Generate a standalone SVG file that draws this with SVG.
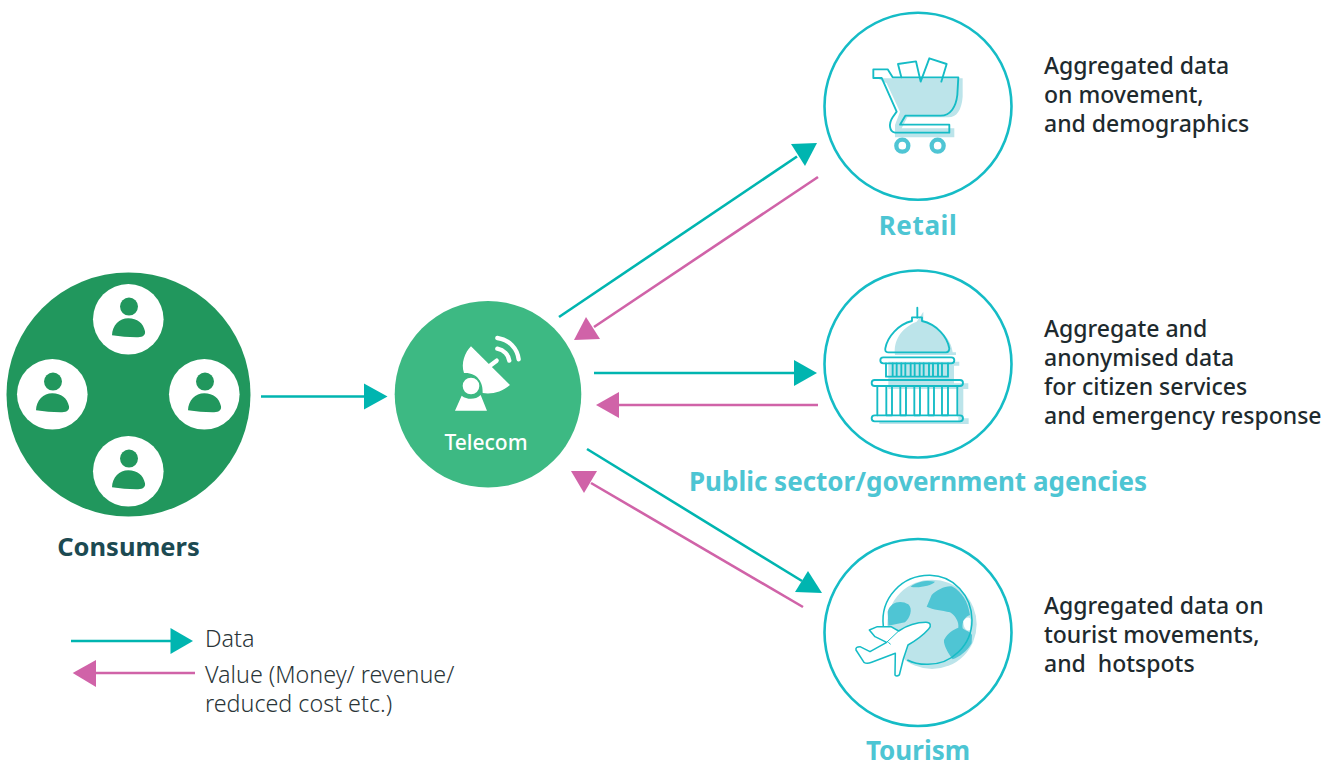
<svg xmlns="http://www.w3.org/2000/svg" width="1334" height="762" viewBox="0 0 1334 762">
<style>
text{font-family:"Noto Sans","Open Sans","Liberation Sans",sans-serif}
.ring{fill:#fff;stroke:#15bcc6;stroke-width:2.6}
.t{font-size:23px;font-weight:500;fill:#1e2a2e}
.h{font-size:26px;font-weight:700;fill:#4dc5d3}
.l{font-size:23.300px;font-weight:300;fill:#2a3538}
.dl{stroke:#00b5b0;stroke-width:2.6;fill:none}
.vl{stroke:#d063a8;stroke-width:2.6;fill:none}
.da{fill:#00b5b0}.va{fill:#d063a8}
.ic{fill:none;stroke:#15bcc6;stroke-width:5.6;stroke-linejoin:round;stroke-linecap:round}
.sh{fill:#bce4ea}
.dk{fill:#4fc5d4}
.p{fill:#21975d}
</style>
<defs>
<g id="person"><circle cx="0.7" cy="-12.7" r="9" class="p"/><path class="p" d="M-16.3 16C-16 6-9-1 0-1C9-1 15 4 16.7 12C17.500 17 13 18 8 18C0 18-8 17-16.300 16Z"/></g>
</defs>
<g id="connectors">
<path class="dl" d="M261 396.500H366"/><path class="da" d="M387.500 396.500L364 383.500V409.500Z"/>
<path class="dl" d="M559 317L797 156.500"/><path class="da" d="M817 143L791 144L805 166Z"/>
<path class="vl" d="M818 177L594 327"/><path class="va" d="M574 340L600 339L586 317Z"/>
<path class="dl" d="M594 373H796"/><path class="da" d="M817 373L794 360V386Z"/>
<path class="vl" d="M818 405H618"/><path class="va" d="M596 405L619 392V418Z"/>
<path class="dl" d="M587 449L802 581"/><path class="da" d="M822 593L808 571L795 592Z"/>
<path class="vl" d="M803 607L591 483"/><path class="va" d="M571 471L584 493L597 471Z"/>
</g>
<g id="consumers">
<circle cx="128.500" cy="394.500" r="122" fill="#21975d"/>
<circle cx="128.300" cy="319.300" r="35.300" fill="#fff"/><use href="#person" x="128.300" y="319.300"/>
<circle cx="52.300" cy="394.300" r="35.300" fill="#fff"/><use href="#person" x="52.300" y="394.300"/>
<circle cx="204.300" cy="394.300" r="35.300" fill="#fff"/><use href="#person" x="204.300" y="394.300"/>
<circle cx="128.300" cy="471.300" r="35.300" fill="#fff"/><use href="#person" x="128.300" y="471.300"/>
<text x="128.500" y="556" text-anchor="middle" font-size="25.500" font-weight="700" fill="#1c4a52">Consumers</text>
</g>
<g id="telecom">
<circle cx="488" cy="394.300" r="93.300" fill="#3db983"/>
<g transform="translate(390 295) scale(.3333)">
<path fill="#fff" d="M243 154L360 270C335 292 305 298 278 294C280 262 262 232 222 234C212 205 225 172 243 154Z"/>
<path stroke="#fff" stroke-width="13" stroke-linecap="round" d="M300 212L320 197"/>
<path fill="none" stroke="#fff" stroke-width="13" stroke-linecap="round" d="M322 161C342 165 356 180 358 197"/>
<path fill="none" stroke="#fff" stroke-width="13" stroke-linecap="round" d="M322 129C358 134 382 160 386 193"/>
<circle cx="243" cy="273" r="25" fill="#fff"/>
<path fill="#fff" d="M215 302C232 315 256 315 272 300L291 347H195Z"/>
</g>
<text x="486" y="450" text-anchor="middle" font-size="21" font-weight="500" fill="#fff">Telecom</text>
</g>
<g id="retail">
<circle class="ring" cx="918" cy="106.300" r="93.500"/>
<g transform="translate(820 0) scale(.3333)">
<path class="sh" d="M172 235H428L428 290C425 330 410 352 385 352H262L245 385H403V412H225V375L240 335L200 250Z"/>
<path class="ic" d="M244 232L234 192L288 184L302 245L328 175L380 192L364 245"/>
<path class="ic" d="M160 208H203L218 232H415L412 285C408 320 392 347 362 347H256L240 374H388V398H225C208 395 205 372 218 352L230 335L185 234H160Z"/>
<circle cx="247" cy="437" r="18" fill="#fff" stroke="#4fc5d4" stroke-width="13"/>
<circle cx="353" cy="437" r="18" fill="#fff" stroke="#4fc5d4" stroke-width="13"/>
</g>
<text class="h" x="918" y="235" text-anchor="middle" letter-spacing=".6">Retail</text>
<text class="t"><tspan x="1044" y="74">Aggregated data</tspan><tspan x="1044" y="103">on movement,</tspan><tspan x="1044" y="132">and demographics</tspan></text>
</g>
<g id="government">
<circle class="ring" cx="918" cy="364" r="93.500"/>
<g transform="translate(820 265) scale(.3333)">
<path class="sh" d="M310 140V168C360 185 395 225 398 262H408V270H225C220 230 240 190 290 170ZM205 290H418V302H402V355H445V372H430V460H446V477H178V468H415V372H205Z"/>
<path class="ic" d="M292 128V158" stroke-width="6"/>
<path class="ic" d="M276 168V157H306V168C350 178 382 215 388 250Q388 262 378 262H204Q194 262 196 250C202 215 235 178 276 168Z"/>
<path class="ic" d="M190 277H394A9 9 0 0 1 394 295H190A9 9 0 0 1 190 277Z"/>
<path class="ic" d="M198 295V335H384V295M218 295V335H230V295M244 295V335H256V295M272 295V335H284V295M299 295V335H311V295M327 295V335H339V295M354 295V335H366V295"/>
<path class="ic" d="M164 345H420A9 9 0 0 1 420 363H164A9 9 0 0 1 164 345Z"/>
<path class="ic" d="M172 363V451M412 363V451"/>
<path class="ic" d="M199 363H216V451H199ZM241 363H258V451H241ZM283 363H300V451H283ZM325 363H342V451H325ZM366 363H384V451H366Z"/>
<path class="ic" d="M164 451H420A9 9 0 0 1 420 469H164A9 9 0 0 1 164 451Z"/>
</g>
<text class="h" x="918" y="491" text-anchor="middle">Public sector/government agencies</text>
<text class="t"><tspan x="1044" y="337">Aggregate and</tspan><tspan x="1044" y="366">anonymised data</tspan><tspan x="1044" y="395">for citizen services</tspan><tspan x="1044" y="424">and emergency response</tspan></text>
</g>
<g id="tourism">
<circle class="ring" cx="918" cy="632.500" r="93.500"/>
<g transform="translate(820 535) scale(.3333)">
<circle class="sh" cx="336" cy="268" r="134"/>
<path class="dk" d="M203 230C212 198 245 195 265 208C280 222 270 250 255 262L205 272ZM320 215L335 180C350 165 380 150 398 155C425 170 445 200 450 240C435 245 425 260 428 280C438 288 450 290 456 300L455 325C440 350 420 365 398 373C385 355 370 330 372 315C385 290 400 285 415 278C418 262 405 240 390 232C365 225 340 225 320 215ZM272 155C290 140 320 135 345 140C335 152 295 160 272 155Z"/>
<path fill="#fff" d="M430 258C440 245 450 245 452 255L450 285C440 290 430 280 430 258Z"/>
<path fill="none" stroke="#15bcc6" stroke-width="4.600" d="M190 274C180 190 245 120 330 121C400 122 455 180 456 255C456 330 395 390 320 388C295 388 275 382 262 375"/>
<path fill="#fff" stroke="#15bcc6" stroke-width="4.600" stroke-linejoin="round" d="M148 285L172 275H213L236 288C260 272 290 262 318 262C332 262 335 272 326 282C310 300 285 318 264 330L250 372L238 420Q230 426 225 420L226 355L155 382Q140 388 132 382L108 345Q106 335 120 335L150 350L200 322L165 305Z"/>
<path fill="none" stroke="#15bcc6" stroke-width="3" d="M200 322L236 288M205 322L212 328"/>
</g>
<text class="h" x="918" y="760" text-anchor="middle">Tourism</text>
<text class="t"><tspan x="1044" y="614">Aggregated data on</tspan><tspan x="1044" y="643">tourist movements,</tspan><tspan x="1044" y="672" xml:space="preserve">and  hotspots</tspan></text>
</g>
<g id="legend">
<path class="dl" d="M71 641H172"/><path class="da" d="M193 641L170.500 628V654Z"/>
<path class="vl" d="M195 673H94"/><path class="va" d="M72.700 673L96 660V687Z"/>
<text class="l"><tspan x="205" y="646.500">Data</tspan><tspan x="205" y="682.500">Value (Money/ revenue/</tspan><tspan x="205" y="712">reduced cost etc.)</tspan></text>
</g>
</svg>
